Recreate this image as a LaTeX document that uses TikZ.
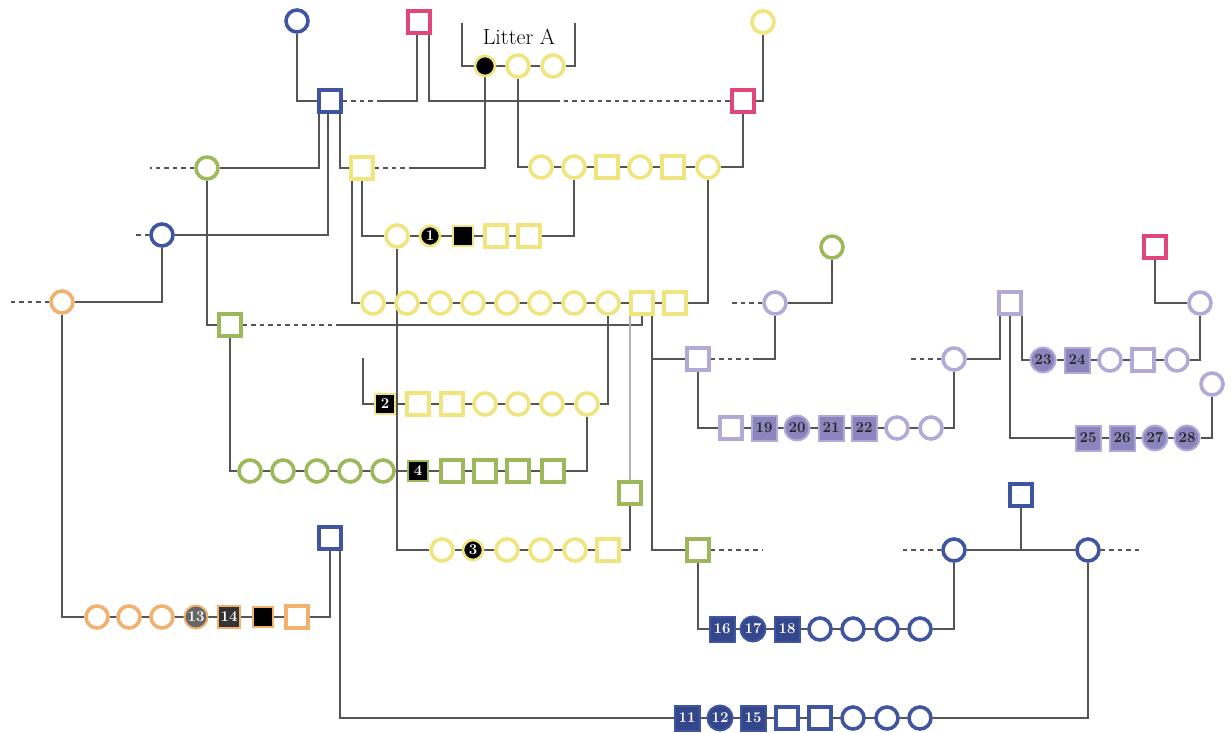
\documentclass[tikz,border=0pt]{standalone}
\usetikzlibrary{calc}
\definecolor{ylw}{HTML}{F0E47E}
\definecolor{grn}{HTML}{9DB85A}
\definecolor{blu}{HTML}{3F55A0}
\definecolor{bluD}{HTML}{34468C}
\definecolor{pnk}{HTML}{E0457B}
\definecolor{org}{HTML}{F2B06E}
\definecolor{prpL}{HTML}{B2AAD6}
\definecolor{prpD}{HTML}{8C84BC}
\definecolor{edgec}{HTML}{555555}
\pgfdeclarelayer{back}
\pgfdeclarelayer{bg}
\pgfsetlayers{back,bg,main}
\begin{document}
\begin{tikzpicture}[x=1pt,y=-1pt,
  nd/.style={line width=3.6pt, minimum size=22pt, inner sep=0pt, fill=white},
  cir/.style={nd,circle,draw=#1},
  sqr/.style={nd,rectangle,draw=#1},
  numf/.style={font=\fontsize{15}{15}\selectfont\bfseries},
  kcir/.style={circle, fill=black, draw=#1, line width=2.6pt, minimum size=20pt, inner sep=0pt, text=white, numf},
  ksqr/.style={rectangle, fill=black, draw=#1, line width=2.6pt, minimum size=20pt, inner sep=0pt, text=white, numf},
  bcir/.style={circle, fill=bluD, draw=blu, line width=2pt, minimum size=25pt, inner sep=0pt, text=white, numf},
  bsqr/.style={rectangle, fill=bluD, draw=blu, line width=2pt, minimum size=25pt, inner sep=0pt, text=white, numf},
  pcir/.style={circle, fill=prpD, draw=prpL, line width=2pt, minimum size=25pt, inner sep=0pt, text=black!85, numf},
  psqr/.style={rectangle, fill=prpD, draw=prpL, line width=2pt, minimum size=25pt, inner sep=0pt, text=black!85, numf},
  edge/.style={draw=edgec, line width=1.5pt},
  ledge/.style={draw=edgec!45, line width=1.5pt},
  dsh/.style={edge, dash pattern=on 4.5pt off 4pt}]
\begin{pgfonlayer}{back}
\fill[white] (0,0) rectangle (1231,733);
\end{pgfonlayer}
\useasboundingbox (0,0) rectangle (1231,733);

% ---------- top generation
\node[cir=blu] (bc1) at (297,21) {};
\node[sqr=pnk] (pk1) at (419,22) {};
\node[sqr=blu] (bs1) at (330,101) {};
\node[sqr=pnk] (pk2) at (743,101) {};
\node[cir=ylw] (yc0) at (763,22) {};
\node[kcir=ylw] (la1) at (485,66) {};
\node[cir=ylw] (la2) at (518,66) {};
\node[cir=ylw] (la3) at (553,66) {};
\node[font=\fontsize{22}{22}\selectfont] (lt) at (519,37) {Litter A};
\coordinate (lb1) at (462,23);
\coordinate (lb2) at (575,23);

% ---------- R1
\node[cir=ylw] (r1a) at (541,167) {};
\node[cir=ylw] (r1b) at (574,167) {};
\node[sqr=ylw] (r1c) at (607,167) {};
\node[cir=ylw] (r1d) at (640,167) {};
\node[sqr=ylw] (r1e) at (673,167) {};
\node[cir=ylw] (r1f) at (708,167) {};

\node[cir=grn] (gc1) at (207,168) {};
\node[sqr=ylw] (ys1) at (362,168) {};
\node[cir=blu] (bc2) at (162,235) {};

% ---------- R2
\node[cir=ylw] (r2a) at (397,236) {};
\node[kcir=ylw] (r2b) at (430,236) {1};
\node[ksqr=ylw] (r2c) at (463,236) {};
\node[sqr=ylw] (r2d) at (496,236) {};
\node[sqr=ylw] (r2e) at (529,236) {};

\node[cir=org] (oc1) at (62,302) {};

% ---------- R3
\node[cir=ylw] (r3a) at (373,303) {};
\node[cir=ylw] (r3b) at (407,303) {};
\node[cir=ylw] (r3c) at (440,303) {};
\node[cir=ylw] (r3d) at (473,303) {};
\node[cir=ylw] (r3e) at (507,303) {};
\node[cir=ylw] (r3f) at (540,303) {};
\node[cir=ylw] (r3g) at (574,303) {};
\node[cir=ylw] (r3h) at (608,303) {};
\node[sqr=ylw] (r3i) at (642,303) {};
\node[sqr=ylw] (r3j) at (675,303) {};

\node[sqr=grn] (gs1) at (230,325) {};

% ---------- R4
\node[ksqr=ylw] (r4a) at (385,404) {2};
\node[sqr=ylw] (r4b) at (418,404) {};
\node[sqr=ylw] (r4c) at (452,404) {};
\node[cir=ylw] (r4d) at (485,404) {};
\node[cir=ylw] (r4e) at (518,404) {};
\node[cir=ylw] (r4f) at (552,404) {};
\node[cir=ylw] (r4g) at (587,404) {};

% ---------- R5
\node[cir=grn] (r5a) at (250,471) {};
\node[cir=grn] (r5b) at (283,471) {};
\node[cir=grn] (r5c) at (317,471) {};
\node[cir=grn] (r5d) at (350,471) {};
\node[cir=grn] (r5e) at (383,471) {};
\node[ksqr=grn] (r5f) at (418,471) {4};
\node[sqr=grn] (r5g) at (452,471) {};
\node[sqr=grn] (r5h) at (485,471) {};
\node[sqr=grn] (r5i) at (518,471) {};
\node[sqr=grn] (r5j) at (553,471) {};

% ---------- R6
\node[cir=ylw] (r6a) at (442,550) {};
\node[kcir=ylw] (r6b) at (473,550) {3};
\node[cir=ylw] (r6c) at (507,550) {};
\node[cir=ylw] (r6d) at (541,550) {};
\node[cir=ylw] (r6e) at (575,550) {};
\node[sqr=ylw] (r6f) at (608,550) {};

\node[sqr=grn] (gs2) at (630,493) {};
\node[sqr=grn] (gs3) at (698,550) {};
\node[sqr=blu] (bs2) at (330,538) {};

% ---------- orange row
\node[cir=org] (o1) at (97,617) {};
\node[cir=org] (o2) at (129,617) {};
\node[cir=org] (o3) at (162,617) {};
\node[circle, fill=black!60, draw=org, line width=2pt, minimum size=23pt, inner sep=0pt, text=white, numf] (o4) at (196,617) {13};
\node[rectangle, fill=black!80, draw=org, line width=2.6pt, minimum size=22pt, inner sep=0pt, text=white, numf] (o5) at (229,617) {14};
\node[ksqr=org] (o6) at (263,617) {};
\node[sqr=org] (o7) at (297,617) {};

% ---------- purple section
\node[sqr=prpL] (ps1) at (698,359) {};
\node[cir=prpL] (pc1) at (775,303) {};
\node[cir=grn] (gc2) at (832,247) {};
\node[sqr=prpL] (p1a) at (731,428) {};
\node[psqr] (p1b) at (764,428) {19};
\node[pcir] (p1c) at (797,428) {20};
\node[psqr] (p1d) at (831,428) {21};
\node[psqr] (p1e) at (864,428) {22};
\node[cir=prpL] (p1f) at (897,428) {};
\node[cir=prpL] (p1g) at (931,428) {};
\node[cir=prpL] (pc2) at (954,359) {};
\node[sqr=prpL] (ps2) at (1010,303) {};
\node[pcir] (p2a) at (1043,360) {23};
\node[psqr] (p2b) at (1077,360) {24};
\node[cir=prpL] (p2c) at (1110,360) {};
\node[sqr=prpL] (p2d) at (1143,360) {};
\node[cir=prpL] (p2e) at (1177,360) {};
\node[sqr=pnk] (pk3) at (1155,247) {};
\node[cir=prpL] (pc3) at (1200,303) {};
\node[cir=prpL] (pc4) at (1212,384) {};
\node[psqr] (p3a) at (1088,438) {25};
\node[psqr] (p3b) at (1122,438) {26};
\node[pcir] (p3c) at (1155,438) {27};
\node[pcir] (p3d) at (1187,438) {28};

% ---------- blue section
\node[sqr=blu] (bs3) at (1021,495) {};
\node[cir=blu] (bc3) at (954,550) {};
\node[cir=blu] (bc4) at (1088,550) {};
\node[bsqr] (b1a) at (722,629) {16};
\node[bcir] (b1b) at (753,629) {17};
\node[bsqr] (b1c) at (787,629) {18};
\node[cir=blu] (b1d) at (820,629) {};
\node[cir=blu] (b1e) at (853,629) {};
\node[cir=blu] (b1f) at (887,629) {};
\node[cir=blu] (b1g) at (920,629) {};
\node[bsqr] (b2a) at (687,718) {11};
\node[bcir] (b2b) at (720,718) {12};
\node[bsqr] (b2c) at (753,718) {15};
\node[sqr=blu] (b2d) at (787,718) {};
\node[sqr=blu] (b2e) at (820,718) {};
\node[cir=blu] (b2f) at (853,718) {};
\node[cir=blu] (b2g) at (887,718) {};
\node[cir=blu] (b2h) at (920,718) {};

% ---------- free ends
\coordinate (gc1d) at (150,168);
\coordinate (bc2d) at (135,235);
\coordinate (oc1d) at (8,302);
\coordinate (m1) at (380,101);
\coordinate (m2) at (555,101);
\coordinate (m3) at (413,168);
\coordinate (m4) at (340,325);
\coordinate (m5) at (755,359);
\coordinate (v1) at (652,359);
\coordinate (pc1d) at (730,303);
\coordinate (pc2d) at (908,359);
\coordinate (gs3d) at (762,550);
\coordinate (bc3d) at (900,550);
\coordinate (bc4d) at (1143,550);
\coordinate (r4s) at (363,358);

\begin{pgfonlayer}{bg}
% top
\draw[edge] (bc1) |- (bs1);
\draw[dsh] (bs1) -- (m1);
\draw[edge] ([xshift=-2pt]pk1.south) |- (m1);
\draw[edge] ([xshift=10pt]pk1.south) |- (m2);
\draw[dsh] (m2) -- (pk2);
\draw[edge] (yc0) |- (pk2);
\draw[edge] (lb1) |- (la1);
\draw[edge] (lb2) |- (la3);
\draw[edge] (la1) -- (la3);
\draw[edge] (la1) |- (m3);
\draw[dsh] (m3) -- (ys1);
\draw[edge] (la2) |- (r1a);
\draw[edge] (pk2) |- (r1f);
\draw[edge] (r1a) -- (r1f);
% blue square bs1
\draw[edge] ([xshift=-11pt]bs1.south) |- (gc1);
\draw[edge] ([xshift=-2pt]bs1.south) |- (bc2);
\draw[edge] ([xshift=10pt]bs1.south) |- (ys1);
\draw[dsh] (gc1) -- (gc1d);
\draw[dsh] (bc2) -- (bc2d);
\draw[dsh] (oc1) -- (oc1d);
\draw[edge] (bc2) |- (oc1);
\draw[edge] (gc1) |- (gs1);
% R2
\draw[edge] (r1b) |- (r2e);
\draw[edge] (r2a) -- (r2e);
\draw[edge] (ys1) |- (r2a);
% R3
\draw[edge] ([xshift=-10pt]ys1.south) |- (r3a);
\draw[edge] (r3a) -- (r3j);
\draw[edge] (r1f) |- (r3j);
\draw[dsh] (gs1) -- (m4);
\draw[edge] (m4) -| (r3i);
\draw[ledge] ([xshift=-12pt]r3i.south) -- (gs2);
\draw[edge] ([xshift=10pt]r3i.south) |- (gs3);
\draw[edge] (v1) -- (ps1);
% R4
\draw[edge] (r4s) |- (r4a);
\draw[edge] (r4a) -- (r4g);
\draw[edge] (r3h) |- (r4g);
% R5
\draw[edge] (gs1) |- (r5a);
\draw[edge] (r5a) -- (r5j);
\draw[edge] (r4g) |- (r5j);
% R6
\draw[edge] (r2a) |- (r6a);
\draw[edge] (r6a) -- (r6f);
\draw[edge] (r6f) -| (gs2);
% orange
\draw[edge] (oc1) |- (o1);
\draw[edge] (o1) -- (o7);
\draw[edge] (o7) -| (bs2);
\draw[edge] ([xshift=10pt]bs2.south) |- (b2a);
% blue
\draw[edge] (b2a) -- (b2h);
\draw[edge] (b2h) -| (bc4);
\draw[edge] (gs3) |- (b1a);
\draw[dsh] (gs3) -- (gs3d);
\draw[edge] (b1a) -- (b1g);
\draw[edge] (b1g) -| (bc3);
\draw[edge] (bc3) -- (bc4);
\draw[edge] (bs3) -- (bs3 |- bc3);
\draw[dsh] (bc3) -- (bc3d);
\draw[dsh] (bc4) -- (bc4d);
% purple
\draw[dsh] (ps1) -- (m5);
\draw[edge] (m5) -| (pc1);
\draw[dsh] (pc1) -- (pc1d);
\draw[edge] (pc1) -| (gc2);
\draw[edge] (ps1) |- (p1a);
\draw[edge] (p1a) -- (p1g);
\draw[edge] (p1g) -| (pc2);
\draw[dsh] (pc2) -- (pc2d);
\draw[edge] (pc2) -| ([xshift=-10pt]ps2.south);
\draw[edge] (ps2) |- (p3a);
\draw[edge] ([xshift=12pt]ps2.south) |- (p2a);
\draw[edge] (p2a) -- (p2e);
\draw[edge] (p2e) -| (pc3);
\draw[edge] (pk3) |- (pc3);
\draw[edge] (pc4) |- (p3d);
\draw[edge] (p3a) -- (p3d);
\end{pgfonlayer}
\end{tikzpicture}
\end{document}
